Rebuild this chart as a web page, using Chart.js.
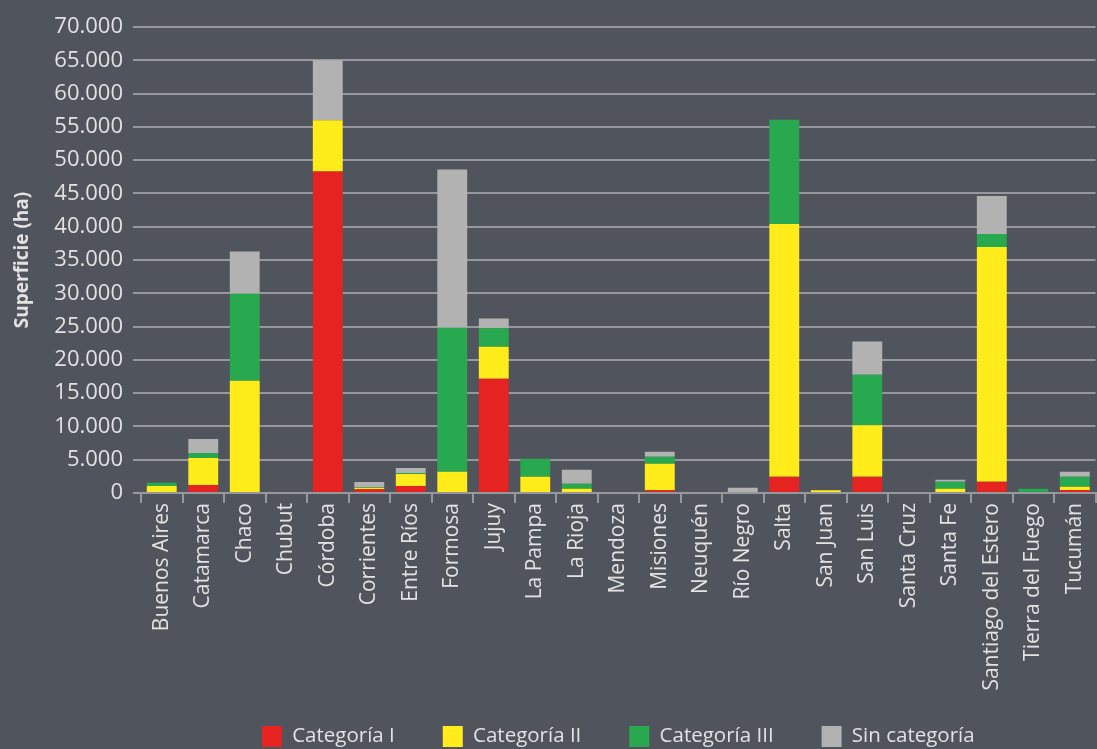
<!DOCTYPE html>
<html>
<head>
<meta charset="utf-8">
<script src="https://cdn.jsdelivr.net/npm/chart.js@4"></script>
<style>
  html, body { margin: 0; padding: 0; background: #50545c; overflow: hidden; }
  #wrap { width: 1097px; height: 749px; position: relative; overflow: hidden; }
  canvas { display: block; }
</style>
</head>
<body>
<div id="wrap"><canvas id="c" width="1100" height="757"></canvas></div>
<script>
const categories = ["Buenos Aires","Catamarca","Chaco","Chubut","Córdoba","Corrientes","Entre Ríos","Formosa","Jujuy","La Pampa","La Rioja","Mendoza","Misiones","Neuquén","Río Negro","Salta","San Juan","San Luis","Santa Cruz","Santa Fe","Santiago del Estero","Tierra del Fuego","Tucumán"];
const categoriaI   = [0, 1200, 0, 0, 48300, 550, 1050, 0, 17170, 0, 0, 0, 400, 0, 0, 2450, 0, 2450, 0, 0, 1700, 0, 450];
const categoriaII  = [1050, 4050, 16870, 0, 7700, 250, 1800, 3200, 4810, 2450, 650, 0, 4000, 0, 0, 37960, 400, 7740, 0, 650, 35260, 0, 500];
const categoriaIII = [500, 750, 13060, 0, 0, 100, 150, 21640, 2770, 2700, 750, 0, 1050, 0, 0, 15640, 0, 7590, 0, 1050, 1950, 650, 1500];
const sinCategoria = [0, 2100, 6340, 0, 9000, 750, 750, 23770, 1450, 0, 2100, 0, 750, 0, 800, 0, 0, 4960, 0, 300, 5710, 0, 750];
const seriesNames = ["Categoría I", "Categoría II", "Categoría III", "Sin categoría"];
const yTicks = { min: 0, max: 70000, step: 5000 };

const colors = ["#e52421", "#ffec1a", "#29a94f", "#b2b2b2"];
const txt = "#e2e2e2";
const grid = "#96989c";
const FONT = "'Open Sans', sans-serif";

function fmt(v) {
  return String(v).replace(/\B(?=(\d{3})+(?!\d))/g, ".");
}

const seriesData = [categoriaI, categoriaII, categoriaIII, sinCategoria];

// let the rotated x labels run past the axis box (they sit above the legend text)
const noLabelClip = {
  id: "noLabelClip",
  afterLayout(chart) {
    chart.scales.x._computeLabelArea = () => undefined;
  }
};

new Chart(document.getElementById("c"), {
  type: "bar",
  data: {
    labels: categories,
    datasets: seriesData.map((d, i) => ({
      label: seriesNames[i],
      data: d,
      backgroundColor: colors[i],
      borderWidth: 0,
      barPercentage: 0.72,
      categoryPercentage: 1.0
    }))
  },
  plugins: [noLabelClip],
  options: {
    responsive: false,
    animation: false,
    layout: { padding: { top: 27, right: 0, left: 0, bottom: 0 } },
    plugins: {
      legend: {
        position: "bottom",
        fullSize: false,
        labels: {
          color: txt,
          boxWidth: 20,
          boxHeight: 21,
          padding: 48,
          font: { family: FONT, size: 20.5 }
        }
      },
      tooltip: { enabled: false }
    },
    scales: {
      x: {
        stacked: true,
        offset: true,
        afterFit: (s) => { s.height = 185; },
        grid: {
          display: true,
          drawOnChartArea: false,
          drawTicks: true,
          tickLength: 10,
          color: grid,
          lineWidth: 2,
          offset: true
        },
        border: { display: true, color: grid, width: 2 },
        ticks: {
          color: txt,
          minRotation: 90,
          maxRotation: 90,
          autoSkip: false,
          padding: 0,
          font: { family: FONT, size: 21 }
        }
      },
      y: {
        stacked: true,
        min: yTicks.min,
        max: yTicks.max,
        afterFit: (s) => { s.width = 141; },
        grid: {
          color: grid,
          lineWidth: 2,
          drawTicks: true,
          tickLength: 8
        },
        border: { display: false },
        ticks: {
          stepSize: yTicks.step,
          color: txt,
          padding: 10,
          font: { family: FONT, size: 22 },
          callback: (v) => fmt(v)
        },
        title: {
          display: true,
          text: "Superficie (ha)",
          color: txt,
          padding: { top: 11, bottom: 0 },
          font: { family: FONT, size: 19, weight: "bold" }
        }
      }
    }
  }
});
</script>
</body>
</html>
